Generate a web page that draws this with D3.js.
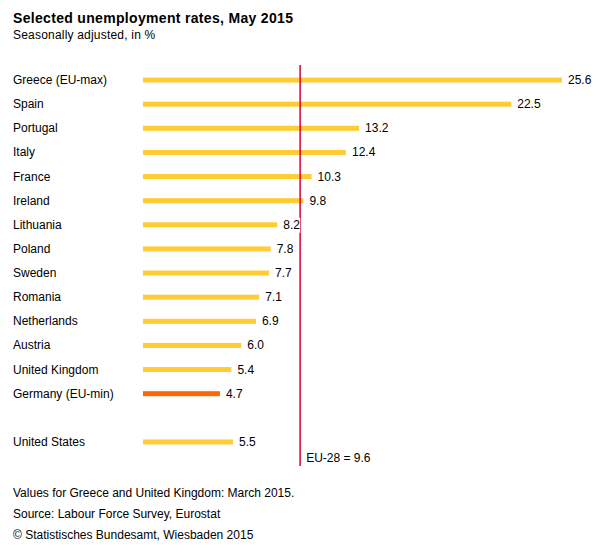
<!DOCTYPE html>
<html><head><meta charset="utf-8">
<script src="https://cdn.jsdelivr.net/npm/d3@7"></script>
<style>body{margin:0;background:#fff;} svg{display:block;font-family:"Liberation Sans",Arial,sans-serif;}</style>
</head><body>
<svg id="c" width="600" height="553"></svg>
<script>
const categories = ["Greece (EU-max)","Spain","Portugal","Italy","France","Ireland","Lithuania","Poland","Sweden","Romania","Netherlands","Austria","United Kingdom","Germany (EU-min)","","United States"];
const values = [25.6,22.5,13.2,12.4,10.3,9.8,8.2,7.8,7.7,7.1,6.9,6.0,5.4,4.7,null,5.5];
const highlight = ["Germany (EU-min)"];
const euAverage = 9.6;
const euLabel = "EU-28 = 9.6";
const title = "Selected unemployment rates, May 2015";
const subtitle = "Seasonally adjusted, in %";
const notes = ["Values for Greece and United Kingdom: March 2015.","Source: Labour Force Survey, Eurostat","© Statistisches Bundesamt, Wiesbaden 2015"];

const svg = d3.select("#c");
const x = d3.scaleLinear().domain([0,25.6]).range([143,562]);
const y = d3.scaleBand().domain(categories.map((d,i)=>i)).range([68,454]).paddingInner(0).paddingOuter(0);

svg.append("text").attr("x",13).attr("y",23).attr("font-size",14).attr("font-weight","bold").attr("letter-spacing",0.32).attr("fill","#000").text(title);
svg.append("text").attr("x",13).attr("y",39).attr("font-size",12).attr("letter-spacing",0.2).attr("fill","#000").text(subtitle);

const rows = categories.map((c,i)=>({c,i,v:values[i]})).filter(d=>d.v!=null);
const cy = i => y(i)+y.bandwidth()/2;

svg.append("g").selectAll("text").data(rows).join("text")
  .attr("x",13).attr("y",d=>cy(d.i)+4).attr("font-size",12).attr("fill","#000").text(d=>d.c);

svg.append("g").selectAll("rect").data(rows).join("rect")
  .attr("x",x(0)).attr("y",d=>cy(d.i)-2.5).attr("height",5)
  .attr("width",d=>x(d.v)-x(0))
  .attr("fill",d=>highlight.includes(d.c)?"#FF6600":"#FFCC33");

svg.append("line").attr("x1",x(euAverage)).attr("x2",x(euAverage)).attr("y1",65).attr("y2",466)
  .attr("stroke","#D6003B").attr("stroke-width",1.5);

const vl = svg.append("g").selectAll("g").data(rows).join("g");
vl.append("rect").attr("x",d=>x(d.v)+3).attr("y",d=>cy(d.i)-7).attr("width",d=>d.v>=10?26:20).attr("height",15).attr("fill","#fff");
vl.append("text").attr("x",d=>x(d.v)+6).attr("y",d=>cy(d.i)+4).attr("font-size",12).attr("fill","#000").text(d=>d.v.toFixed(1));

svg.append("text").attr("x",x(euAverage)+6).attr("y",462).attr("font-size",12).attr("fill","#000").text(euLabel);

svg.append("g").selectAll("text").data(notes).join("text")
  .attr("x",13).attr("y",(d,i)=>497+i*21).attr("font-size",12).attr("fill","#000").text(d=>d);
</script>
</body></html>
